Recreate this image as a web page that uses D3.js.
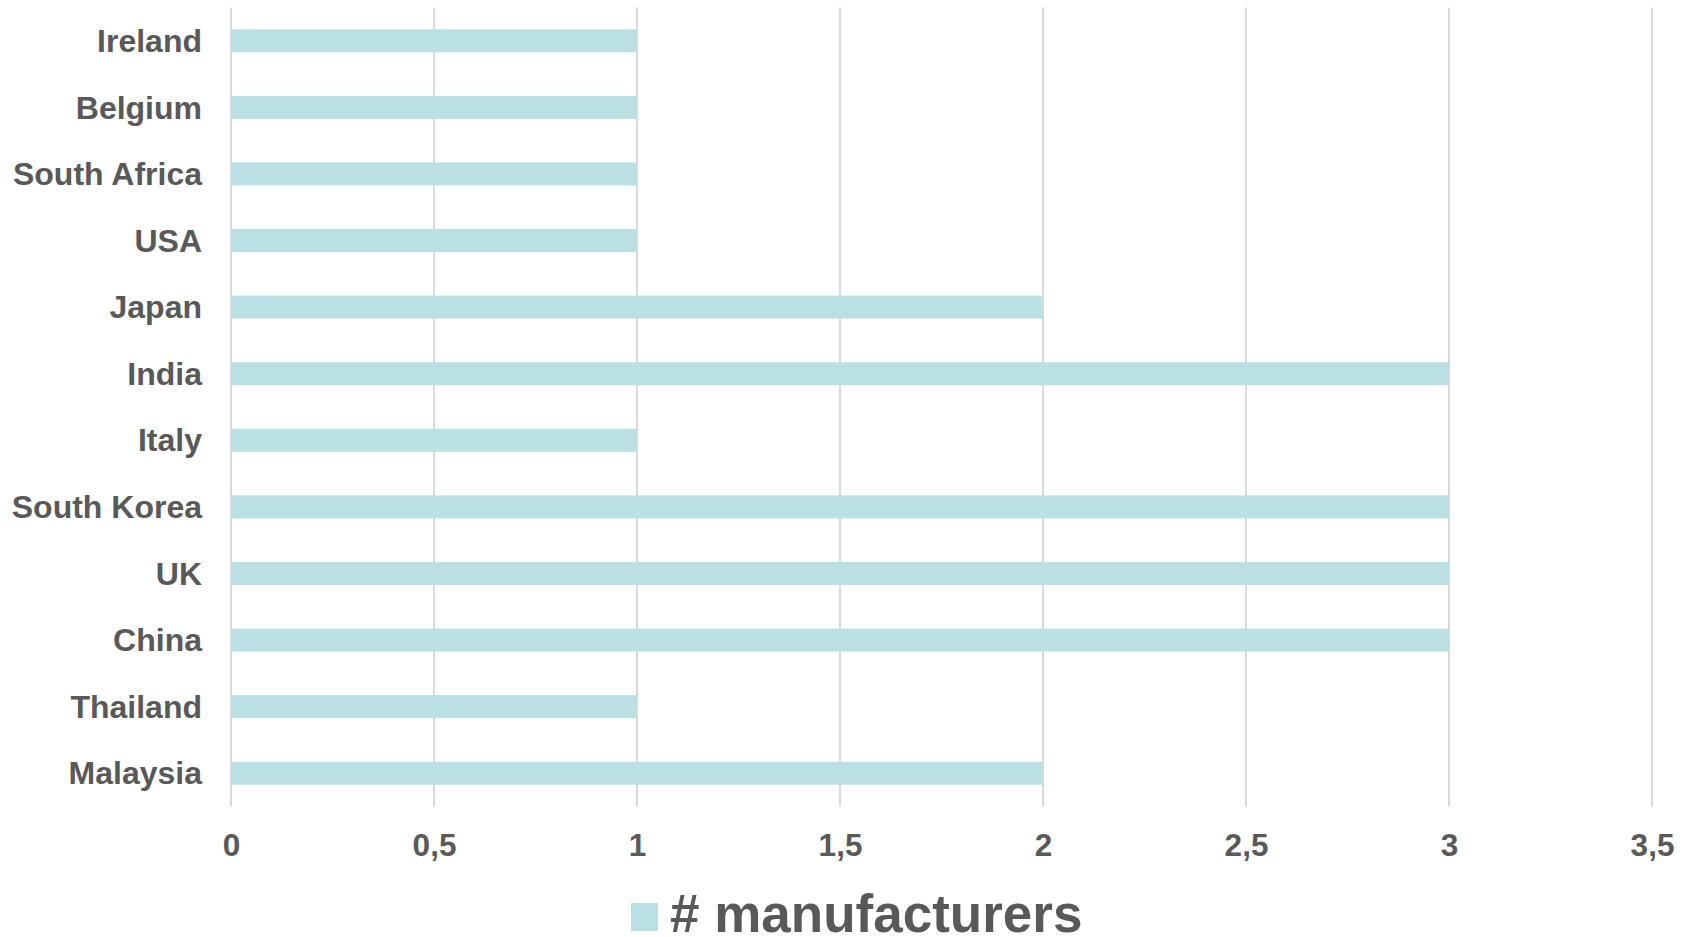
<!DOCTYPE html>
<meta charset="utf-8">
<style>
  body { margin: 0; background: #fff; }
  svg { font-family: "Liberation Sans", Arial, sans-serif; font-weight: bold; }
</style>
<script src="https://d3js.org/d3.v7.min.js"></script>
<body>
<svg id="chart" width="1682" height="937"></svg>
<script>

// countries, top to bottom as in the chart
var countries = ["Ireland", "Belgium", "South Africa", "USA", "Japan", "India",
                 "Italy", "South Korea", "UK", "China", "Thailand", "Malaysia"];
var manufacturers = [1, 1, 1, 1, 2, 3, 1, 3, 3, 3, 1, 2];
var xTicks = [0, 0.5, 1, 1.5, 2, 2.5, 3, 3.5];
var seriesName = "# manufacturers";

var svg = d3.select("#chart"),
    margin = {top: 7.5, left: 231, right: 30, bottom: 130},
    width = 1652 - margin.left,
    height = 806.5 - margin.top;

var barColor = "#bbe0e3",
    textColor = "#595959",
    gridColor = "#d9d9d9";

var x = d3.scaleLinear().domain([0, 3.5]).range([0, width]);
var y = d3.scaleBand().domain(countries).range([0, height]).paddingInner(0.654).paddingOuter(0.327);

var g = svg.append("g").attr("transform", `translate(${margin.left},${margin.top})`);

// vertical gridlines (reach down past the plot as tick marks)
g.append("g")
  .selectAll("line")
  .data(xTicks)
  .enter()
  .append("line")
    .attr("x1", d => x(d))
    .attr("x2", d => x(d))
    .attr("y1", 0)
    .attr("y2", height)
    .attr("stroke", gridColor)
    .attr("stroke-width", 2);

// bars
g.append("g")
  .selectAll("rect")
  .data(countries)
  .enter()
  .append("rect")
    .attr("x", x(0) + 1)
    .attr("y", d => y(d))
    .attr("height", y.bandwidth())
    .attr("width", (d, i) => x(manufacturers[i]) - x(0) - 1)
    .attr("fill", barColor);

// category labels
g.append("g")
  .selectAll("text")
  .data(countries)
  .enter()
  .append("text")
    .attr("x", -29)
    .attr("y", d => y(d) + y.bandwidth() / 2)
    .attr("dy", "0.35em")
    .attr("text-anchor", "end")
    .attr("fill", textColor)
    .style("font-size", "32px")
    .text(d => d);

// x axis labels
var fmt = d => String(d).replace(".", ",");
var xAxis = g.append("g")
  .attr("transform", `translate(0,${height})`)
  .call(d3.axisBottom(x).tickValues(xTicks).tickFormat(fmt).tickSize(0).tickPadding(0));
xAxis.select(".domain").remove();
xAxis.selectAll("text")
  .attr("y", 49.5)
  .attr("dy", 0)
  .attr("fill", textColor)
  .style("font-size", "31.5px")
  .style("font-family", "'Liberation Sans', Arial, sans-serif")
  .style("font-weight", "bold");

// legend
var legend = svg.append("g").attr("transform", "translate(631,903)");
legend.append("rect")
  .attr("width", 27)
  .attr("height", 28)
  .attr("fill", barColor);
legend.append("text")
  .attr("x", 39)
  .attr("y", 28.5)
  .attr("fill", textColor)
  .style("font-size", "53px")
  .text(seriesName);

</script>
</body>
